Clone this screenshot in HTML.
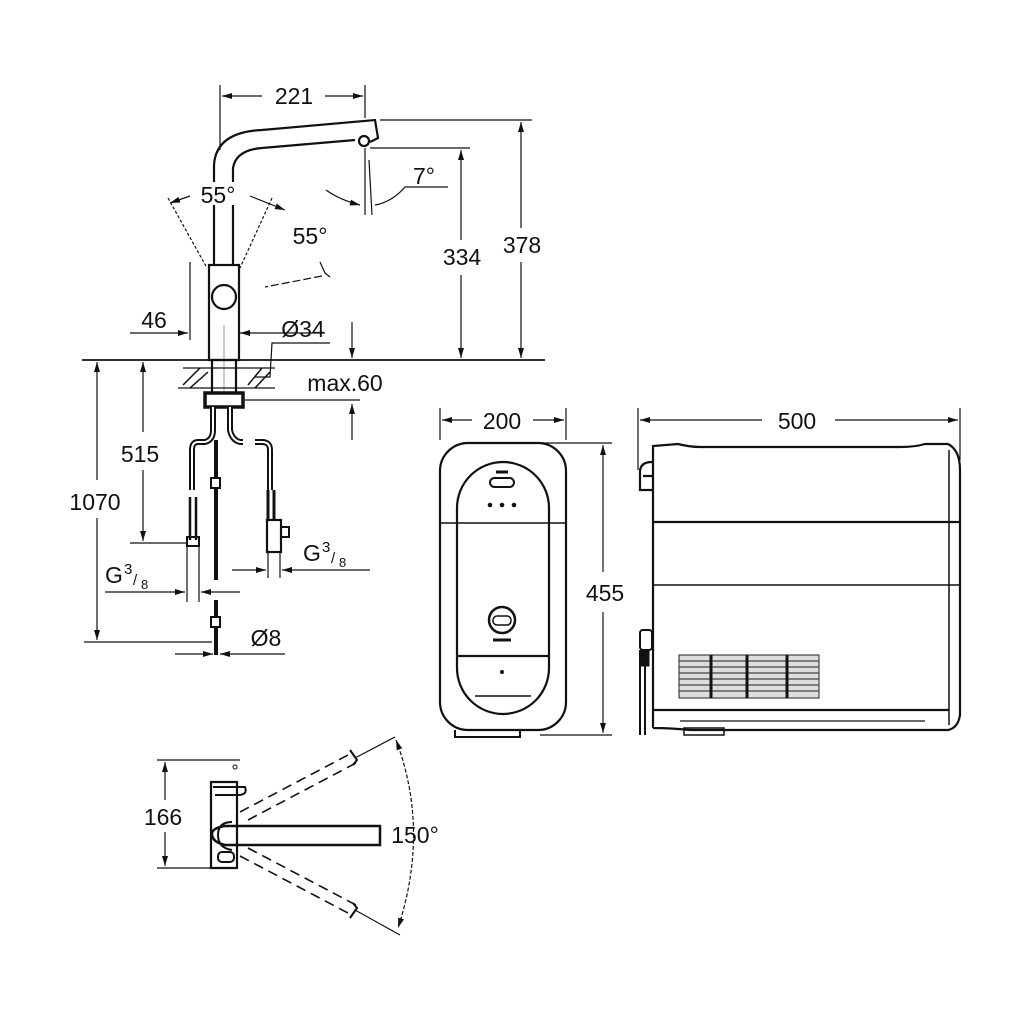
<!DOCTYPE html>
<html><head><meta charset="utf-8"><style>
html,body{margin:0;padding:0;background:#fff}
svg{display:block}
text{font-family:"Liberation Sans",sans-serif;fill:#111}
</style></head><body>
<svg width="1024" height="1024" viewBox="0 0 1024 1024" xmlns="http://www.w3.org/2000/svg">
<defs>
<marker id="a" viewBox="0 0 10 6" refX="10" refY="3" markerWidth="11" markerHeight="6" orient="auto-start-reverse" markerUnits="userSpaceOnUse"><path d="M0,0L10,3L0,6z" fill="#111"/></marker>
</defs>
<g stroke="#111" fill="none" stroke-width="1.8">
<!-- 221 -->
<line x1="220" y1="85" x2="220" y2="150" stroke-width="1.2"/>
<line x1="365" y1="85" x2="365" y2="118" stroke-width="1.2"/>
<line x1="222" y1="96" x2="262" y2="96" stroke-width="1.2" marker-start="url(#a)"/>
<line x1="325" y1="96" x2="363" y2="96" stroke-width="1.2" marker-end="url(#a)"/>
<!-- spout -->
<path d="M214 182 L214 165 Q216 132 262 130 L375 120 L378 138 L370 142" stroke-width="2.2"/>
<path d="M233 182 L233 168 Q236 150 262 148 L355 140" stroke-width="2.2"/>
<circle cx="364" cy="141" r="5" stroke-width="2.2"/>
<line x1="214" y1="205" x2="214" y2="265" stroke-width="2.2"/>
<line x1="233" y1="205" x2="233" y2="265" stroke-width="2.2"/>
<rect x="209" y="265" width="30" height="95" stroke-width="2.2"/>
<circle cx="224" cy="297" r="12" stroke-width="2.2"/>
<!-- 55 degrees -->
<line x1="168" y1="198" x2="207" y2="268" stroke-width="1.2" stroke-dasharray="3,2"/>
<line x1="272" y1="198" x2="240" y2="268" stroke-width="1.2" stroke-dasharray="3,2"/>
<path d="M170 203 L190 196" stroke-width="1.2" marker-start="url(#a)"/>
<path d="M250 196 L285 210" stroke-width="1.2" marker-end="url(#a)"/>
<path d="M320 262 L325 273 L330 277" stroke-width="1.2"/>
<path d="M322 276 L265 287" stroke-width="1.2" stroke-dasharray="8,3"/>
<line x1="190" y1="262" x2="190" y2="340" stroke-width="1.2"/>
<!-- 7 degrees -->
<line x1="365" y1="148" x2="365" y2="215" stroke-width="1.2"/>
<line x1="369" y1="160" x2="372" y2="215" stroke-width="1.2"/>
<path d="M326 190 Q340 200 360 205" stroke-width="1.2" marker-end="url(#a)"/>
<path d="M375 205 Q392 202 405 187 L448 187" stroke-width="1.2"/>
<!-- 334 / 378 -->
<line x1="370" y1="148" x2="470" y2="148" stroke-width="1.2"/>
<line x1="380" y1="120" x2="532" y2="120" stroke-width="1.2"/>
<line x1="461" y1="150" x2="461" y2="240" stroke-width="1.2" marker-start="url(#a)"/>
<line x1="461" y1="275" x2="461" y2="358" stroke-width="1.2" marker-end="url(#a)"/>
<line x1="521" y1="122" x2="521" y2="228" stroke-width="1.2" marker-start="url(#a)"/>
<line x1="521" y1="262" x2="521" y2="358" stroke-width="1.2" marker-end="url(#a)"/>
<!-- baseline -->
<line x1="82" y1="360" x2="545" y2="360" stroke-width="1.8"/>
<!-- 46 -->
<line x1="130" y1="333" x2="188" y2="333" stroke-width="1.2" marker-end="url(#a)"/>
<!-- Ø34 -->
<line x1="224" y1="325" x2="224" y2="395" stroke="#999" stroke-width="1"/>
<line x1="240" y1="333" x2="325" y2="333" stroke-width="1.2" marker-start="url(#a)"/>
<line x1="352" y1="322" x2="352" y2="358" stroke-width="1.2" marker-end="url(#a)"/>
<path d="M255 377 L270 377 L272 343 L330 343" stroke-width="1.2"/>
<!-- counter & nut -->
<line x1="183" y1="368" x2="275" y2="368" stroke-width="1.2"/>
<line x1="178" y1="388" x2="275" y2="388" stroke-width="1.2"/>
<path d="M183 385 L200 368 M190 388 L208 372 M248 385 L262 368 M255 388 L270 372" stroke-width="1.5"/>
<rect x="212" y="360" width="24" height="33" stroke-width="2.2"/>
<rect x="205" y="393" width="38" height="14" stroke-width="3.5"/>
<line x1="245" y1="400" x2="360" y2="400" stroke-width="1.2"/>
<line x1="352" y1="404" x2="352" y2="440" stroke-width="1.2" marker-start="url(#a)"/>
<!-- hoses -->
<path d="M213 407 L213 430 Q213 440 205 442 L198 442 Q192 442 192 450 L192 490" stroke-width="6"/>
<path d="M213 407 L213 430 Q213 440 205 442 L198 442 Q192 442 192 450 L192 490" stroke="#fff" stroke-width="2"/>
<path d="M230 407 L230 430 Q232 440 240 442 L243 442 M255 442 L262 442 Q270 442 270 450 L270 490" stroke-width="6"/>
<path d="M230 407 L230 430 Q232 440 240 442 L243 442 M255 442 L262 442 Q270 442 270 450 L270 490" stroke="#fff" stroke-width="2"/>
<line x1="216" y1="440" x2="216" y2="580" stroke-width="4"/>
<line x1="216" y1="600" x2="216" y2="655" stroke-width="4"/>
<rect x="211" y="478" width="9" height="10" fill="#fff" stroke-width="2"/>
<rect x="211" y="617" width="9" height="10" fill="#fff" stroke-width="2"/>
<path d="M190 497 L190 540 M196 497 L196 540" stroke-width="2.5"/>
<rect x="187" y="537" width="12" height="9" stroke-width="2"/>
<line x1="187" y1="546" x2="187" y2="602" stroke-width="1.2"/>
<line x1="199" y1="546" x2="199" y2="602" stroke-width="1.2"/>
<path d="M268 490 L268 520 M274 490 L274 520" stroke-width="3"/>
<rect x="267" y="520" width="14" height="32" stroke-width="2.2"/>
<rect x="281" y="527" width="8" height="10" stroke-width="2"/>
<line x1="268" y1="552" x2="268" y2="578" stroke-width="1.2"/>
<line x1="280" y1="552" x2="280" y2="578" stroke-width="1.2"/>
<!-- G3/8 dims -->
<line x1="232" y1="570" x2="266" y2="570" stroke-width="1.2" marker-end="url(#a)"/>
<line x1="282" y1="570" x2="370" y2="570" stroke-width="1.2" marker-start="url(#a)"/>
<line x1="105" y1="592" x2="185" y2="592" stroke-width="1.2" marker-end="url(#a)"/>
<line x1="201" y1="592" x2="240" y2="592" stroke-width="1.2" marker-start="url(#a)"/>
<!-- 515 1070 -->
<line x1="130" y1="543" x2="186" y2="543" stroke-width="1.2"/>
<line x1="143" y1="362" x2="143" y2="432" stroke-width="1.2" marker-start="url(#a)"/>
<line x1="143" y1="470" x2="143" y2="541" stroke-width="1.2" marker-end="url(#a)"/>
<line x1="97" y1="362" x2="97" y2="480" stroke-width="1.2" marker-start="url(#a)"/>
<line x1="97" y1="518" x2="97" y2="640" stroke-width="1.2" marker-end="url(#a)"/>
<line x1="84" y1="642" x2="212" y2="642" stroke-width="1.2"/>
<!-- Ø8 -->
<line x1="175" y1="654" x2="213" y2="654" stroke-width="1.2" marker-end="url(#a)"/>
<line x1="220" y1="654" x2="285" y2="654" stroke-width="1.2" marker-start="url(#a)"/>

<!-- front unit -->
<line x1="440" y1="408" x2="440" y2="440" stroke-width="1.2"/>
<line x1="566" y1="408" x2="566" y2="440" stroke-width="1.2"/>
<line x1="442" y1="420" x2="472" y2="420" stroke-width="1.2" marker-start="url(#a)"/>
<line x1="533" y1="420" x2="564" y2="420" stroke-width="1.2" marker-end="url(#a)"/>
<rect x="440" y="443" width="126" height="287" rx="28" stroke-width="2.2"/>
<rect x="457" y="462" width="92" height="252" rx="46" stroke-width="2.2"/>
<line x1="440" y1="523" x2="566" y2="523" stroke-width="1.5"/>
<line x1="457" y1="656" x2="549" y2="656" stroke-width="2.2"/>
<line x1="475" y1="696" x2="531" y2="696" stroke-width="1.5"/>
<rect x="490" y="478" width="24" height="9" rx="4.5" stroke-width="2"/>
<line x1="496" y1="472" x2="508" y2="472" stroke-width="3"/>
<circle cx="490" cy="505" r="2.3" fill="#111" stroke-width="0"/>
<circle cx="502" cy="505" r="2.3" fill="#111" stroke-width="0"/>
<circle cx="514" cy="505" r="2.3" fill="#111" stroke-width="0"/>
<circle cx="502" cy="620" r="13" stroke-width="2.5"/>
<rect x="493" y="616" width="18" height="9" rx="4" stroke-width="1.5"/>
<path d="M493 640 L511 640" stroke-width="3"/>
<circle cx="502" cy="672" r="2" fill="#111" stroke-width="0"/>
<path d="M455 730 L455 737 L520 737 L520 730" stroke-width="2"/>
<line x1="540" y1="443" x2="612" y2="443" stroke-width="1.2"/>
<line x1="540" y1="735" x2="612" y2="735" stroke-width="1.2"/>
<line x1="603" y1="445" x2="603" y2="572" stroke-width="1.2" marker-start="url(#a)"/>
<line x1="603" y1="612" x2="603" y2="733" stroke-width="1.2" marker-end="url(#a)"/>

<!-- side unit -->
<line x1="638" y1="408" x2="638" y2="470" stroke-width="1.2"/>
<line x1="960" y1="408" x2="960" y2="460" stroke-width="1.2"/>
<line x1="640" y1="420" x2="762" y2="420" stroke-width="1.2" marker-start="url(#a)"/>
<line x1="835" y1="420" x2="958" y2="420" stroke-width="1.2" marker-end="url(#a)"/>
<path d="M653 728 L653 446 L678 444 Q690 447 700 447 L900 447 Q915 447 925 444 L948 444 Q960 450 960 470 L960 715 Q958 728 948 730 L690 730 Q670 728 653 728" stroke-width="2.2"/>
<line x1="949" y1="450" x2="949" y2="725" stroke-width="1.5"/>
<line x1="653" y1="522" x2="960" y2="522" stroke-width="2.2"/>
<line x1="653" y1="585" x2="960" y2="585" stroke-width="1.6"/>
<line x1="653" y1="710" x2="949" y2="710" stroke-width="2.2"/>
<line x1="680" y1="721" x2="925" y2="721" stroke-width="1.2"/>
<rect x="684" y="728" width="40" height="7" stroke-width="1.5"/>
<path d="M652 462 Q640 462 640 472 L640 490 L653 490 M643 476 L652 476" stroke-width="2.2"/>
<rect x="640" y="630" width="12" height="20" rx="3" stroke-width="2"/>
<path d="M640 650 L640 735 M645 650 L645 735" stroke-width="2"/>
<rect x="641" y="650" width="8" height="16" fill="#111" stroke-width="1"/>
<g stroke-width="1.2" stroke="#444">
<rect x="679" y="655" width="140" height="43" fill="#ddd"/>
<line x1="679" y1="661" x2="819" y2="661"/><line x1="679" y1="667" x2="819" y2="667"/>
<line x1="679" y1="673" x2="819" y2="673"/><line x1="679" y1="679" x2="819" y2="679"/>
<line x1="679" y1="685" x2="819" y2="685"/><line x1="679" y1="691" x2="819" y2="691"/>
</g>
<path d="M711 655 L711 698 M747 655 L747 698 M787 655 L787 698" stroke-width="3"/>

<!-- top view -->
<line x1="157" y1="760" x2="240" y2="760" stroke-width="1.2"/>
<line x1="157" y1="868" x2="210" y2="868" stroke-width="1.2"/>
<line x1="165" y1="762" x2="165" y2="800" stroke-width="1.2" marker-start="url(#a)"/>
<line x1="165" y1="832" x2="165" y2="866" stroke-width="1.2" marker-end="url(#a)"/>
<circle cx="235" cy="767" r="2" stroke-width="1"/>
<rect x="211" y="782" width="26" height="86" stroke-width="2.2"/>
<path d="M213 787 L245 787 Q248 795 238 795 L215 795" stroke-width="2"/>
<rect x="218" y="852" width="16" height="10" rx="4" stroke-width="2"/>
<path d="M380 826 L225 826 Q212 828 212 834 Q212 842 225 845 L380 845 Z" stroke-width="2.5"/>
<path d="M232 822 Q218 822 218 835 Q218 848 232 850" stroke-width="2"/>
<g stroke-width="1.6" stroke-dasharray="10,6">
<line x1="240" y1="812" x2="348" y2="755"/>
<line x1="248" y1="820" x2="356" y2="763"/>
<line x1="240" y1="856" x2="348" y2="913"/>
<line x1="248" y1="848" x2="356" y2="905"/>
</g>
<path d="M350 750 L357 760 L353 765" stroke-width="2"/>
<path d="M350 918 L357 908 L353 903" stroke-width="2"/>
<line x1="355" y1="758" x2="395" y2="737" stroke-width="1.2"/>
<line x1="355" y1="910" x2="400" y2="935" stroke-width="1.2"/>
<path d="M396 740 Q430 830 398 928" stroke-width="1.2" stroke-dasharray="4,2" marker-start="url(#a)" marker-end="url(#a)"/>
</g>
<g font-size="23">
<text x="294" y="104" text-anchor="middle">221</text>
<text x="218" y="203" text-anchor="middle">55°</text>
<text x="310" y="244" text-anchor="middle">55°</text>
<text x="424" y="184" text-anchor="middle">7°</text>
<text x="462" y="265" text-anchor="middle">334</text>
<text x="522" y="253" text-anchor="middle">378</text>
<text x="154" y="328" text-anchor="middle">46</text>
<text x="303" y="337" text-anchor="middle">Ø34</text>
<text x="345" y="391" text-anchor="middle">max.60</text>
<text x="140" y="462" text-anchor="middle">515</text>
<text x="95" y="510" text-anchor="middle">1070</text>
<text x="303" y="561">G</text><text x="322" y="552" font-size="15">3</text><text x="331" y="563" font-size="15">/</text><text x="339" y="567" font-size="13">8</text>
<text x="105" y="583">G</text><text x="124" y="574" font-size="15">3</text><text x="133" y="585" font-size="15">/</text><text x="141" y="589" font-size="13">8</text>
<text x="266" y="646" text-anchor="middle">Ø8</text>
<text x="502" y="429" text-anchor="middle">200</text>
<text x="797" y="429" text-anchor="middle">500</text>
<text x="605" y="601" text-anchor="middle">455</text>
<text x="163" y="825" text-anchor="middle">166</text>
<text x="415" y="843" text-anchor="middle">150°</text>
</g>
</svg>
</body></html>
